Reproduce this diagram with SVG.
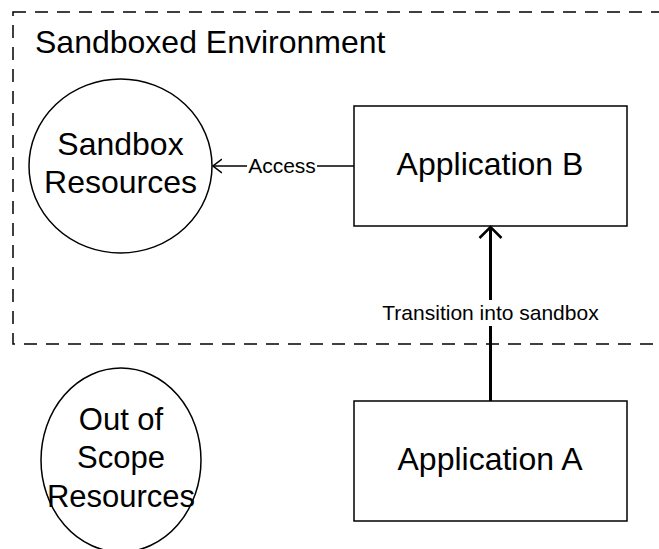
<svg xmlns="http://www.w3.org/2000/svg" width="659" height="549" viewBox="0 0 659 549">
<style>
text{font-family:"Liberation Sans",Arial,sans-serif;fill:#000}
.node{fill:#fff;stroke:#000;stroke-width:1.5}
.big{font-size:32px;text-anchor:middle}
.lbl{font-size:21px;text-anchor:middle}
</style>
<defs>
<marker id="open" markerWidth="14" markerHeight="26" refX="12" refY="13" orient="auto" markerUnits="userSpaceOnUse">
<path d="M1,2 L12,13 L1,24" fill="none" stroke="#000" stroke-width="2.5"/>
</marker>
<marker id="openS" markerWidth="10" markerHeight="20" refX="9" refY="8" orient="auto" markerUnits="userSpaceOnUse">
<path d="M0,1 L9,8 L0,15" fill="none" stroke="#000" stroke-width="1.5"/>
</marker>
</defs>
<rect width="659" height="549" fill="#fff"/>
<g id="sandbox-boundary">
<rect x="13" y="12" width="660" height="332" fill="none" stroke="#000" stroke-width="1.5" stroke-dasharray="13 9"/>
<text x="35" y="53" style="font-size:32px">Sandboxed Environment</text>
</g>
<g id="sandbox-resources">
<ellipse class="node" cx="120.5" cy="166" rx="91.5" ry="87"/>
<text class="big" x="120.5" y="155">Sandbox</text>
<text class="big" x="120.5" y="193">Resources</text>
</g>
<g id="application-b">
<rect class="node" x="354" y="106" width="273" height="120"/>
<text class="big" x="490" y="175">Application B</text>
</g>
<g id="application-a">
<rect class="node" x="354" y="401" width="273" height="120"/>
<text class="big" x="490" y="470">Application A</text>
</g>
<g id="out-of-scope-resources">
<ellipse class="node" cx="121" cy="460" rx="80" ry="92"/>
<text class="big" x="121" y="430" style="font-size:31px">Out of</text>
<text class="big" x="121" y="468" style="font-size:31px">Scope</text>
<text class="big" x="121" y="507" style="font-size:31px">Resources</text>
</g>
<g id="connectors">
<line x1="354" y1="166" x2="213" y2="166" stroke="#000" stroke-width="1.5" marker-end="url(#openS)"/>
<rect x="247" y="153" width="70" height="24" fill="#fff"/>
<text class="lbl" x="282" y="173">Access</text>
<line x1="490.5" y1="401" x2="490.5" y2="227" stroke="#000" stroke-width="3" marker-end="url(#open)"/>
<rect x="379" y="300" width="224" height="26" fill="#fff"/>
<text class="lbl" x="490.5" y="320">Transition into sandbox</text>
</g>
</svg>
